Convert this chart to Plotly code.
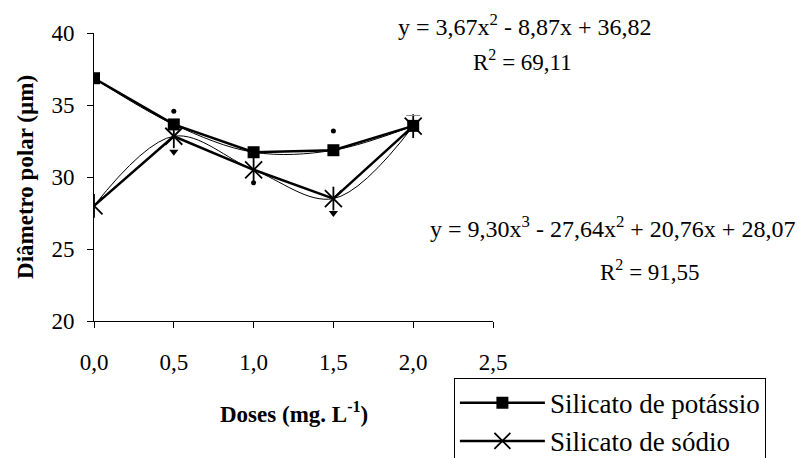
import plotly.graph_objects as go

doses = [0.0, 0.5, 1.0, 1.5, 2.0]
potassio = [36.86, 33.65, 31.72, 31.86, 33.55]
sodio = [28.0, 32.83, 30.5, 28.5, 33.53]

# small extra marks near points (error-bar remnants)
dot_x = [0.5, 1.0, 1.5]
dot_y = [34.57, 29.6, 33.2]
tri_x = [0.5, 1.5]
tri_y = [31.75, 27.5]
dash_x = [2.0]
dash_y = [34.27]

xticks = [0.0, 0.5, 1.0, 1.5, 2.0, 2.5]
xticklabels = ["0,0", "0,5", "1,0", "1,5", "2,0", "2,5"]
yticks = [20, 25, 30, 35, 40]

eq1 = "y = 3,67x<sup>2</sup> - 8,87x + 36,82"
r1 = "R<sup>2</sup> = 69,11"
eq2 = "y = 9,30x<sup>3</sup> - 27,64x<sup>2</sup> + 20,76x + 28,07"
r2 = "R<sup>2</sup> = 91,55"

FONT = "Liberation Serif"

fig = go.Figure()

# thin smoothed curves (trend lines)
fig.add_trace(go.Scatter(x=doses, y=potassio, mode="lines", line=dict(color="black", width=1, shape="spline", smoothing=1.0),
                         showlegend=False, hoverinfo="skip"))
fig.add_trace(go.Scatter(x=doses, y=sodio, mode="lines", line=dict(color="black", width=1, shape="spline", smoothing=1.0),
                         showlegend=False, hoverinfo="skip"))

# thick data lines
fig.add_trace(go.Scatter(x=doses, y=potassio, mode="lines+markers", name="Silicato de potássio",
                         line=dict(color="black", width=2.5),
                         marker=dict(symbol="square", size=12, color="black")))
fig.add_trace(go.Scatter(x=doses, y=sodio, mode="lines+markers", name="Silicato de sódio",
                         line=dict(color="black", width=2.5),
                         marker=dict(symbol="x-thin-open", size=17, color="black",
                                     line=dict(color="black", width=1.8))))
fig.add_trace(go.Scatter(x=doses, y=sodio, mode="markers", showlegend=False, hoverinfo="skip",
                         marker=dict(symbol="line-ns-open", size=17, color="black",
                                     line=dict(color="black", width=1.8))))

# small marks
fig.add_trace(go.Scatter(x=dot_x, y=dot_y, mode="markers", showlegend=False, hoverinfo="skip",
                         marker=dict(symbol="circle", size=5, color="black")))
fig.add_trace(go.Scatter(x=tri_x, y=tri_y, mode="markers", showlegend=False, hoverinfo="skip",
                         marker=dict(symbol="triangle-down", size=8, color="black")))
fig.add_trace(go.Scatter(x=dash_x, y=dash_y, mode="markers", showlegend=False, hoverinfo="skip",
                         marker=dict(symbol="line-ew-open", size=10, color="#888",
                                     line=dict(color="#888", width=1))))

axis_common = dict(showline=True, linecolor="black", linewidth=1, showgrid=False, zeroline=False,
                   ticks="outside", ticklen=6, tickwidth=1, tickcolor="black",
                   tickfont=dict(family=FONT, size=23, color="black"))

fig.update_layout(
    width=806, height=458, autosize=False,
    margin=dict(l=94, r=313, t=33, b=137, pad=0, autoexpand=False),
    paper_bgcolor="white", plot_bgcolor="white",
    font=dict(family=FONT, color="black"),
    xaxis=dict(range=[0, 2.5], tickvals=xticks, ticktext=xticklabels, ticklabelstandoff=14, **axis_common),
    yaxis=dict(range=[20, 40], tickvals=yticks, ticklabelstandoff=8, **axis_common),
    legend=dict(x=0.902, y=-0.197, xanchor="left", yanchor="top",
                bordercolor="black", borderwidth=1, bgcolor="white",
                font=dict(family=FONT, size=27, color="black"),
                itemwidth=85, tracegroupgap=0),
    annotations=[
        dict(text="<b>Doses (mg. L<sup>-1</sup>)</b>", x=0.5, y=-0.316, xref="paper", yref="paper",
             xanchor="center", yanchor="middle", showarrow=False, font=dict(family=FONT, size=23)),
        dict(text="<b>Diâmetro polar (µm)</b>", x=-0.173, y=0.5, xref="paper", yref="paper",
             xanchor="center", yanchor="middle", textangle=-90, showarrow=False, font=dict(family=FONT, size=23)),
        dict(text=eq1, x=0.757, y=1.028, xref="paper", yref="paper", xanchor="left", yanchor="middle",
             showarrow=False, font=dict(family=FONT, size=24)),
        dict(text=r1, x=1.075, y=0.906, xref="paper", yref="paper", xanchor="center", yanchor="middle",
             showarrow=False, font=dict(family=FONT, size=23)),
        dict(text=eq2, x=1.762, y=0.326, xref="paper", yref="paper", xanchor="right", yanchor="middle",
             showarrow=False, font=dict(family=FONT, size=24)),
        dict(text=r2, x=1.393, y=0.177, xref="paper", yref="paper", xanchor="center", yanchor="middle",
             showarrow=False, font=dict(family=FONT, size=23)),
    ],
)

fig.write_html("out.html", config={"displayModeBar": False},
               post_script="document.body.style.margin='0';")
